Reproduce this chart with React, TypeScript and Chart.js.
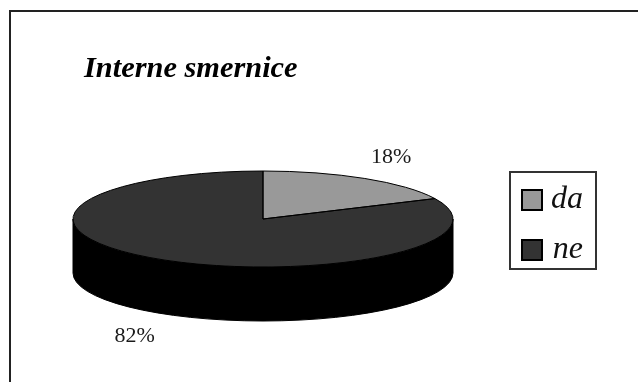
import React, { useEffect, useRef } from "react";
import { Chart, registerables } from "chart.js";

Chart.register(...registerables);

const categories = ["da", "ne"];
const shares = [18, 82];
const sliceColors = ["#999999", "#333333"];
const chartTitle = "Interne smernice";

const SERIF = "'Liberation Serif', 'Times New Roman', serif";
const DISC = { cx: 263, cy: 219, rx: 190, ry: 48, depth: 54 };
const LEGEND_BOX = { left: 510, top: 172, right: 596, bottom: 269 };

// Flattens the round pie into a tilted disc, with a black rim below it.
const tiltedDisc = {
  id: "tiltedDisc",
  afterLayout(chart: any) {
    const { legend, titleBlock } = chart;
    legend.left = LEGEND_BOX.left - 6;
    legend.right = LEGEND_BOX.right - 13;
    legend.top = LEGEND_BOX.top - 6;
    // The legend wraps to a new column past its bottom, so leave it room.
    legend.bottom = LEGEND_BOX.bottom + 40;
    legend.adjustHitBoxes();
    titleBlock.left = 84;
    titleBlock.right = 400;
    titleBlock.top = 51;
    titleBlock.bottom = 91;
  },
  beforeDraw(chart: any) {
    const { ctx, width, height } = chart;
    ctx.save();
    ctx.strokeStyle = "#222222";
    ctx.lineWidth = 2;
    ctx.beginPath();
    ctx.moveTo(10, height);
    ctx.lineTo(10, 11);
    ctx.lineTo(width, 11);
    ctx.stroke();
    ctx.strokeStyle = "#333333";
    ctx.strokeRect(
      LEGEND_BOX.left,
      LEGEND_BOX.top,
      LEGEND_BOX.right - LEGEND_BOX.left,
      LEGEND_BOX.bottom - LEGEND_BOX.top
    );
    ctx.restore();
  },
  beforeDatasetsDraw(chart: any) {
    const { ctx } = chart;
    const arcs = chart.getDatasetMeta(0).data;
    const { cx, cy, rx, ry, depth } = DISC;
    const radius = arcs[0].outerRadius;

    ctx.save();
    ctx.lineWidth = 1;
    ctx.strokeStyle = "#000000";

    // Rim: front half of the lower ellipse joined to the upper one.
    ctx.fillStyle = "#000000";
    ctx.beginPath();
    ctx.ellipse(cx, cy + depth, rx, ry, 0, 0, Math.PI);
    ctx.lineTo(cx - rx, cy);
    ctx.ellipse(cx, cy, rx, ry, 0, Math.PI, 0, true);
    ctx.closePath();
    ctx.fill();
    ctx.stroke();

    // Top face: the library's own arc elements under a squashing transform.
    ctx.save();
    ctx.translate(cx, cy);
    ctx.scale(rx / radius, ry / radius);
    ctx.translate(-arcs[0].x, -arcs[0].y);
    arcs.forEach((arc: any) => arc.draw(ctx));
    ctx.restore();

    // Slice outlines, stroked outside the transform to keep an even width.
    arcs.forEach((arc: any) => {
      ctx.beginPath();
      ctx.moveTo(cx, cy);
      ctx.ellipse(cx, cy, rx, ry, 0, arc.startAngle, arc.endAngle);
      ctx.closePath();
      ctx.stroke();
    });

    // Percentage labels outside the disc, next to each slice's middle.
    ctx.fillStyle = "#1a1a1a";
    ctx.font = `22px ${SERIF}`;
    ctx.textAlign = "center";
    ctx.textBaseline = "middle";
    arcs.forEach((arc: any, i: number) => {
      const mid = (arc.startAngle + arc.endAngle) / 2;
      const x = cx + rx * 1.26 * Math.cos(mid);
      const dy = ry * 1.26 * Math.sin(mid);
      const y = dy < 0 ? cy + dy - 11 : cy + dy + depth + 12;
      ctx.fillText(`${shares[i]}%`, x, y);
    });
    ctx.restore();
    return false;
  },
};

export default function App() {
  const canvasRef = useRef<HTMLCanvasElement>(null);

  useEffect(() => {
    const chart = new Chart(canvasRef.current!, {
      type: "pie",
      data: {
        labels: categories,
        datasets: [{ data: shares, backgroundColor: sliceColors, borderWidth: 0 }],
      },
      options: {
        responsive: false,
        animation: false,
        layout: { padding: { left: 20, right: 20, top: 20, bottom: 20 } },
        plugins: {
          tooltip: { enabled: false },
          title: {
            display: true,
            text: chartTitle,
            align: "start",
            color: "#000000",
            padding: 0,
            font: { family: SERIF, size: 30.4, weight: "bold", style: "italic" },
          },
          legend: {
            position: "right",
            align: "start",
            labels: {
              boxWidth: 20,
              boxHeight: 20,
              padding: 18,
              color: "#111111",
              textAlign: "right",
              font: { family: SERIF, size: 32, style: "italic" },
              generateLabels: () =>
                categories.map((text, i) => ({
                  text,
                  fillStyle: sliceColors[i],
                  strokeStyle: "#000000",
                  lineWidth: 2,
                  fontColor: "#111111",
                  textAlign: "right",
                  index: i,
                })),
            },
          },
        },
      },
      plugins: [tiltedDisc],
    });
    return () => chart.destroy();
  }, []);

  return (
    <canvas
      ref={canvasRef}
      width={638}
      height={382}
      style={{ position: "absolute", left: 0, top: 0, background: "#ffffff" }}
    />
  );
}
